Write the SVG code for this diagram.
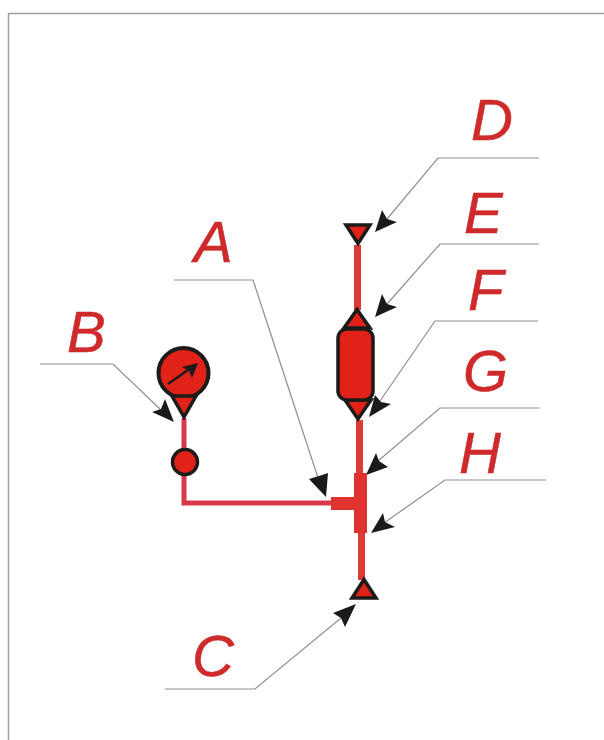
<svg xmlns="http://www.w3.org/2000/svg" width="604" height="740" viewBox="0 0 604 740">
<style>
.lbl{font-family:"Liberation Sans",Arial,sans-serif;font-style:italic;font-size:58px;fill:#cf2a2b;stroke:#cf2a2b;stroke-width:0.5}
.sym{fill:#e02219;stroke:#1d1a1a;stroke-width:3.500;stroke-linejoin:miter}
.pipe{fill:none;stroke:#dc3a35;stroke-width:7}
.lead{fill:none;stroke:#8f8f8f;stroke-width:1.200}
.head{fill:#1a1a1a}
</style>
<rect width="604" height="740" fill="#fff"/>
<path d="M8.500 740V13.500H604" fill="none" stroke="#a0a0a0" stroke-width="1.500"/>
<g id="connectors">
<path class="pipe" d="M357.500 245V310"/>
<path class="pipe" d="M359.500 420V475"/>
<path class="pipe" d="M361.500 533V580"/>
<path class="pipe" style="stroke:#d9384a;stroke-width:5" d="M184 418V503H332"/>
<path class="lead" d="M174 280H253L322 490"/>
<path class="lead" d="M40 364H113L160 409"/>
<path class="lead" d="M539 158H438L387 219"/>
<path class="lead" d="M539 244H440L387 304"/>
<path class="lead" d="M538 321H435L380 401"/>
<path class="lead" d="M540 408H440L378 461"/>
<path class="lead" d="M546 480H445L384 523"/>
<path class="lead" d="M165 689H255L341 618"/>
<path class="head" d="M326 497L309 479L319 476L328 473Z"/>
<path class="head" d="M174 422L152 412L161 409L165 399Z"/>
<path class="head" d="M375 232L397 222L387 219L382 210Z"/>
<path class="head" d="M375 317L397 307L387 304L382 294Z"/>
<path class="head" d="M369 417L391 404L381 402L375 395Z"/>
<path class="head" d="M366 475L388 467L379 461L376 453Z"/>
<path class="head" d="M371 533L395 527L385 522L383 513Z"/>
<path class="head" d="M356 604L333 613L341 618L345 627Z"/>
</g>
<g id="gauge">
<circle class="sym" cx="183.500" cy="373" r="25" style="stroke-width:4"/>
<path class="sym" d="M172 396H196L184 417Z"/>
<path d="M168 384L188 370" fill="none" stroke="#1a1a1a" stroke-width="2.200"/>
<path class="head" d="M198 363L192 378L189 371L182 367Z"/>
</g>
<g id="small-circle"><circle class="sym" cx="185" cy="462" r="12.500"/></g>
<g id="top-cap"><path class="sym" d="M346 225H370L358 243.500Z"/></g>
<g id="filter">
<path class="sym" d="M357 309.500L370 328H344Z"/>
<path class="sym" d="M345 400H371L358 419Z"/>
<rect class="sym" x="338" y="329" width="35" height="71" rx="9"/>
</g>
<g id="tee">
<path d="M354 473H367V533H354V510H331V497H354Z" fill="#e0322f"/>
</g>
<g id="bottom-cap"><path class="sym" d="M364 579.500L376 598H352Z"/></g>
<g id="labels">
<text class="lbl" x="194" y="262">A</text>
<text class="lbl" x="67" y="352">B</text>
<text class="lbl" x="192" y="676">C</text>
<text class="lbl" x="471" y="140">D</text>
<text class="lbl" x="464" y="233">E</text>
<text class="lbl" x="468" y="310">F</text>
<text class="lbl" x="463" y="391">G</text>
<text class="lbl" x="459" y="473">H</text>
</g>
</svg>
